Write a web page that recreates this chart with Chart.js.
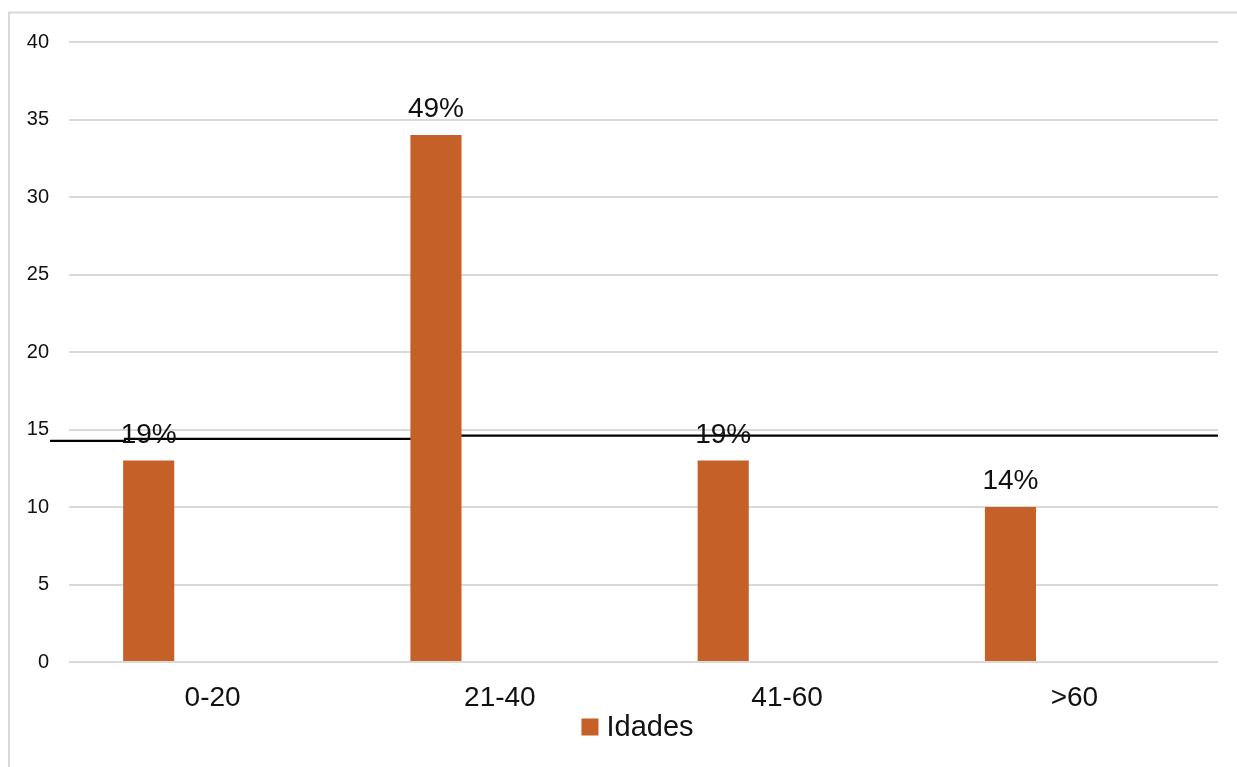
<!DOCTYPE html>
<html lang="pt">
<head>
<meta charset="utf-8">
<title>Idades</title>
<script src="https://cdn.jsdelivr.net/npm/chart.js@4.4.1/dist/chart.umd.min.js"></script>
<style>
  html, body { margin: 0; padding: 0; background: #ffffff; }
  #wrap { width: 1237px; height: 767px; }
</style>
</head>
<body>
<div id="wrap"><canvas id="grafico" width="1237" height="767"></canvas></div>
<script>
// Faixas etárias e número de pessoas em cada faixa
const categorias = ['0-20', '21-40', '41-60', '>60'];
const idades = [13, 34, 13, 10];
const serieVazia = [null, null, null, null];
const ticksY = [0, 5, 10, 15, 20, 25, 30, 35, 40];

// Linha de referência horizontal (valores no eixo Y, posições no eixo das categorias)
const linhaPosX = [-0.566, -0.305, -0.305, 0.78, 0.78, 3.5];
const linhaValY = [14.26, 14.26, 14.39, 14.39, 14.6, 14.6];

const total = idades.reduce((a, b) => a + b, 0);
const FONTE = '"Liberation Sans", Arial, Helvetica, sans-serif';
const COR_BARRA = '#C56028';
const COR_GRADE = '#d9d9d9';
const COR_TEXTO = '#111111';

// Moldura clara à volta do gráfico
const moldura = {
  id: 'moldura',
  beforeDraw(chart) {
    const ctx = chart.ctx;
    ctx.save();
    ctx.strokeStyle = COR_GRADE;
    ctx.lineWidth = 2;
    ctx.strokeRect(9, 12.5, 1400, 900);
    ctx.restore();
  }
};

// Linha preta desenhada por trás das barras
const linhaRef = {
  id: 'linhaRef',
  beforeDatasetsDraw(chart) {
    const x = chart.scales.x, y = chart.scales.y, ctx = chart.ctx;
    ctx.save();
    ctx.strokeStyle = '#000000';
    ctx.lineWidth = 2.2;
    ctx.beginPath();
    linhaPosX.forEach((px, i) => {
      const X = x.getPixelForValue(px);
      const Y = y.getPixelForValue(linhaValY[i]);
      if (i === 0) ctx.moveTo(X, Y); else ctx.lineTo(X, Y);
    });
    ctx.stroke();
    ctx.restore();
  }
};

// Percentagens por cima de cada barra
const rotulos = {
  id: 'rotulos',
  afterDatasetsDraw(chart) {
    const meta = chart.getDatasetMeta(0);
    const ctx = chart.ctx;
    ctx.save();
    ctx.font = '28px ' + FONTE;
    ctx.fillStyle = COR_TEXTO;
    ctx.textAlign = 'center';
    ctx.textBaseline = 'alphabetic';
    meta.data.forEach((bar, i) => {
      const pct = Math.round(idades[i] / total * 100) + '%';
      ctx.fillText(pct, bar.x, bar.y - 18);
    });
    ctx.restore();
  }
};

// Legenda desenhada por baixo do eixo X
const legenda = {
  id: 'legenda',
  afterDraw(chart) {
    const ctx = chart.ctx;
    const area = chart.chartArea;
    const texto = chart.data.datasets[0].label;
    ctx.save();
    ctx.font = '29px ' + FONTE;
    const largura = 17 + 8 + ctx.measureText(texto).width;
    const cx = (area.left + area.right) / 2 - 6;
    const x0 = cx - largura / 2;
    const cy = 727;
    ctx.fillStyle = COR_BARRA;
    ctx.fillRect(x0, cy - 8.5, 17, 17);
    ctx.fillStyle = COR_TEXTO;
    ctx.textAlign = 'left';
    ctx.textBaseline = 'middle';
    ctx.fillText(texto, x0 + 25, cy + 1);
    ctx.restore();
  }
};

new Chart(document.getElementById('grafico'), {
  type: 'bar',
  data: {
    labels: categorias,
    datasets: [
      {
        label: 'Idades',
        data: idades,
        backgroundColor: COR_BARRA,
        categoryPercentage: 0.89,
        barPercentage: 0.4
      },
      {
        label: '',
        data: serieVazia,
        backgroundColor: COR_BARRA,
        categoryPercentage: 0.89,
        barPercentage: 0.4
      }
    ]
  },
  options: {
    responsive: false,
    animation: false,
    devicePixelRatio: 1,
    layout: { padding: { left: 0, right: 19, top: 42, bottom: 45 } },
    plugins: {
      legend: { display: false },
      tooltip: { enabled: false }
    },
    scales: {
      x: {
        grid: { display: false, drawTicks: false },
        border: { display: false },
        ticks: {
          padding: 19,
          color: COR_TEXTO,
          font: { family: FONTE, size: 28 }
        },
        afterFit(scale) { scale.height = 60; }
      },
      y: {
        min: 0,
        max: 40,
        afterBuildTicks(scale) { scale.ticks = ticksY.map(v => ({ value: v })); },
        grid: { color: COR_GRADE, lineWidth: 2, drawTicks: false },
        border: { display: false },
        ticks: {
          padding: 20,
          color: COR_TEXTO,
          font: { family: FONTE, size: 20 }
        },
        afterFit(scale) { scale.width = 69; }
      }
    }
  },
  plugins: [moldura, linhaRef, rotulos, legenda]
});
</script>
</body>
</html>
